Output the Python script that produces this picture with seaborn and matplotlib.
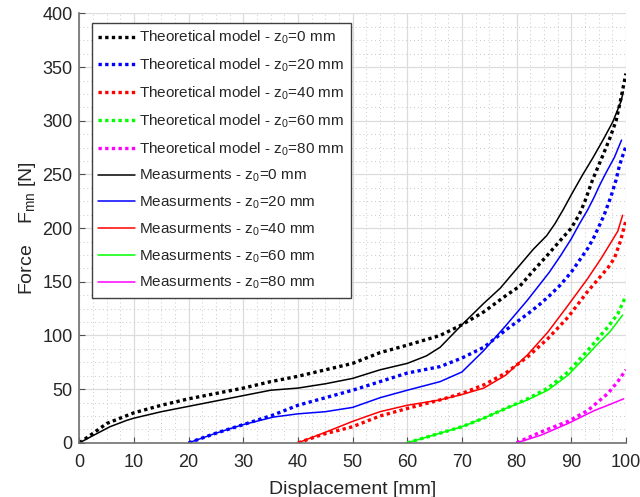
import numpy as np
import pandas as pd
import matplotlib
matplotlib.use('Agg')
import matplotlib.pyplot as plt
from matplotlib.ticker import MultipleLocator, AutoMinorLocator
import seaborn as sns

# theoretical model curves (dotted)
th_x_0 = [0, 2, 5, 10, 15, 20, 25, 30, 35, 40, 45, 50, 55, 60, 66, 70, 74, 78, 80.6, 83, 85.5, 87.9, 90, 91.5, 92.5, 93.9, 95.8, 97, 98.2, 99.1, 100]
th_y_0 = [0, 7, 18, 28, 35, 41, 46, 51, 57, 62, 68, 74, 84, 91, 100, 110, 122, 137, 146, 160, 174, 188, 200, 213, 225, 245, 268, 283, 300, 321, 344]
th_x_20 = [20, 25, 30, 35.5, 40, 45, 50, 55, 60, 66, 70, 74, 78, 82, 84, 86, 88, 90, 91.5, 93, 94.2, 96, 97.3, 98.2, 98.8, 99.7, 100]
th_y_20 = [0, 9, 17, 26, 35, 42, 49, 57, 65, 71, 79, 89, 105, 120, 128, 137, 147, 159, 170, 181, 192, 212, 230, 245, 258, 272, 276]
th_x_40 = [40, 44.6, 50, 55, 60, 66, 70, 74, 78, 82, 85.7, 89.4, 93, 96.7, 97.9, 99, 100]
th_y_40 = [0, 8, 15, 25, 32, 40, 46, 54, 65, 80, 97, 117, 141, 163, 172, 188, 207]
th_x_60 = [60, 66, 70, 74, 78, 82, 85.7, 89.4, 93, 96.7, 98.5, 100]
th_y_60 = [0, 9, 15, 23, 32, 41, 51, 66, 86, 108, 120, 137]
th_x_80 = [80, 84.4, 89.4, 93, 96.7, 98.5, 100]
th_y_80 = [0, 10, 20, 30, 46, 57, 68]

# measurements (solid)
ms_x_0 = [0, 2.6, 5.6, 8.7, 10, 15, 20, 25, 30, 35, 40, 45, 50, 55, 60, 63.5, 66, 70, 74, 77, 80, 83, 85.5, 87, 88.5, 90, 92, 93.9, 95.8, 97.6, 99.1, 99.5]
ms_y_0 = [0, 7, 15, 21, 23, 29, 34, 39, 44, 49, 51, 55, 60, 68, 74, 81, 89, 110, 130, 144, 162, 180, 193, 204, 217, 231, 249, 265, 282, 299, 318, 327]
ms_x_20 = [20, 25, 30, 35.5, 40, 45, 50, 55, 60, 66, 70, 74, 78, 80, 82, 84, 86, 88, 90, 91.5, 93, 94.2, 95.2, 96.3, 97.9, 99.2]
ms_y_20 = [0, 9, 17, 24, 27, 29, 33, 42, 49, 57, 66, 86, 109, 121, 133, 146, 159, 174, 190, 204, 217, 229, 240, 251, 266, 282]
ms_x_40 = [40, 44.6, 50, 55, 60, 66, 70, 74, 78, 82, 85.7, 89.4, 93, 95.5, 97.3, 98.5, 99.4]
ms_y_40 = [0, 9, 20, 29, 35, 40, 45, 51, 63, 82, 103, 128, 153, 172, 187, 197, 212]
ms_x_60 = [60, 66, 70, 74, 78, 82, 85.7, 89.4, 93, 95, 97, 99.4]
ms_y_60 = [0, 9, 15, 23, 32, 40, 49, 63, 82, 93, 103, 119]
ms_x_80 = [80, 84.4, 89.4, 94.2, 96.7, 99.6]
ms_y_80 = [0, 7, 18, 30, 35, 41]

z0_values = [0, 20, 40, 60, 80]
colors = ['#000000', '#0000ff', '#ff0000', '#00ff00', '#ff00ff']
theory = [(th_x_0, th_y_0), (th_x_20, th_y_20), (th_x_40, th_y_40), (th_x_60, th_y_60), (th_x_80, th_y_80)]
meas = [(ms_x_0, ms_y_0), (ms_x_20, ms_y_20), (ms_x_40, ms_y_40), (ms_x_60, ms_y_60), (ms_x_80, ms_y_80)]

sns.set_style('ticks')
plt.rcParams['font.family'] = ['Liberation Sans', 'DejaVu Sans']
plt.rcParams['mathtext.fontset'] = 'custom'
plt.rcParams['mathtext.rm'] = 'Liberation Sans'
plt.rcParams['mathtext.it'] = 'Liberation Sans'
plt.rcParams['mathtext.default'] = 'regular'

fig = plt.figure(figsize=(6.4, 4.97), dpi=100)
ax = fig.add_axes([0.124, 0.109, 0.854, 0.864])

for z0, c, (x, y) in zip(z0_values, colors, theory):
    d = pd.DataFrame({'x': x, 'y': y})
    sns.lineplot(data=d, x='x', y='y', ax=ax, color=c, linewidth=2.4, sort=False,
                 estimator=None, label=f'Theoretical model - z$_0$={z0} mm')
for line in ax.lines:
    line.set_dashes([1, 1])
    line.set_dash_capstyle('butt')

for z0, c, (x, y) in zip(z0_values, colors, meas):
    d = pd.DataFrame({'x': x, 'y': y})
    sns.lineplot(data=d, x='x', y='y', ax=ax, color=c, linewidth=1.1, sort=False,
                 estimator=None, label=f'Measurments - z$_0$={z0} mm')

ax.set_xlim(0, 100)
ax.set_ylim(0, 400)
ax.xaxis.set_major_locator(MultipleLocator(10))
ax.yaxis.set_major_locator(MultipleLocator(50))
ax.xaxis.set_minor_locator(AutoMinorLocator(4))
ax.yaxis.set_minor_locator(AutoMinorLocator(4))
ax.grid(which='major', color='#dcdcdc', linewidth=0.9, linestyle='-')
ax.grid(which='minor', color='#c8c8c8', linewidth=0.7, linestyle=(0, (1, 3)))
ax.set_axisbelow(True)

for s in ['top', 'right']:
    ax.spines[s].set_visible(False)
for s in ['left', 'bottom']:
    ax.spines[s].set_color('#707070')
    ax.spines[s].set_linewidth(1.2)
ax.tick_params(which='major', direction='in', length=4, color='#505050',
               labelsize=13, labelcolor='#262626', pad=5)
ax.tick_params(axis='x', which='major', pad=8)
ax.tick_params(which='minor', length=0)

ax.set_xlabel('Displacement [mm]', fontsize=14, color='#262626', labelpad=7)
ax.set_ylabel('Force    F$_{mn}$ [N]', fontsize=14, color='#262626', labelpad=3)

leg = ax.legend(loc='upper left', bbox_to_anchor=(0.0227, 0.978), borderaxespad=0,
                fontsize=11, handlelength=2.4, labelspacing=0.68, handletextpad=0.3,
                borderpad=0.4, fancybox=False, framealpha=1, edgecolor='#404040')
leg.get_frame().set_linewidth(1.0)

plt.savefig('out.png', dpi=100)
